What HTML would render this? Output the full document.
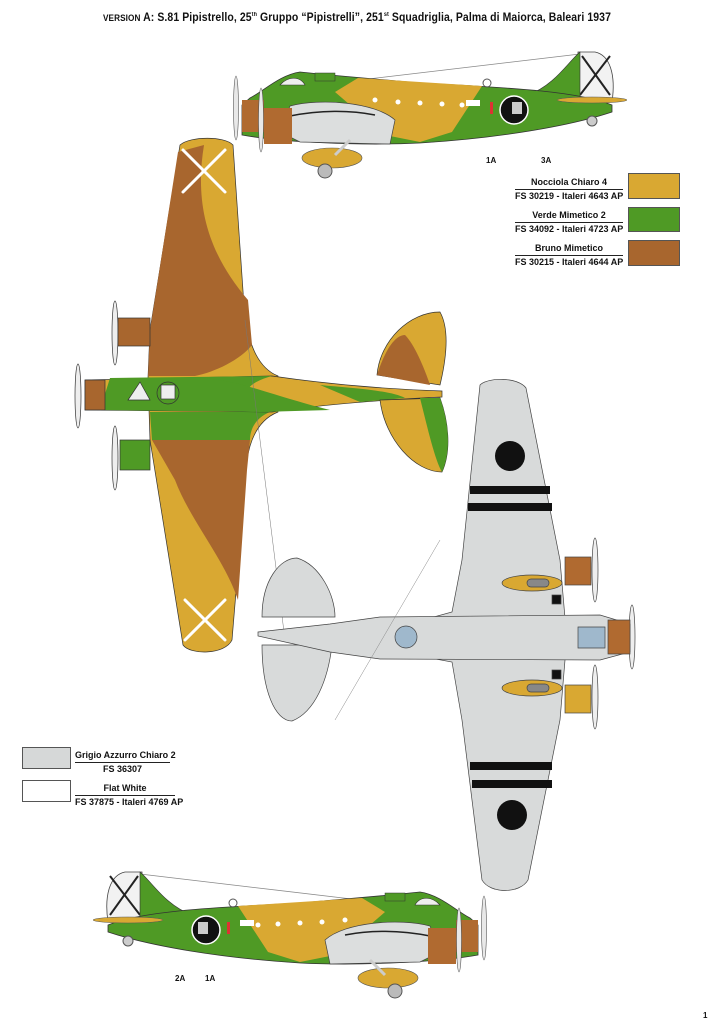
<!DOCTYPE html>
<html><head><meta charset="utf-8"><style>
html,body{margin:0;padding:0;background:#fff;}
body{width:714px;height:1023px;overflow:hidden;position:relative;font-family:"Liberation Sans Narrow","Liberation Sans",sans-serif;}
.t{position:absolute;font-weight:bold;color:#111;white-space:nowrap;}
.lg{position:absolute;font-weight:bold;font-size:9px;color:#111;text-align:center;white-space:nowrap;line-height:13px;}
.lg span{display:block;}
.lg .a{border-bottom:1px solid #222;}
.box{position:absolute;border:1px solid #555;}
</style></head><body>
<div class="t" style="left:103px;top:12px;font-size:11.5px;letter-spacing:0.1px;transform:scaleX(0.91);transform-origin:0 0;"><span style="font-size:9px">VERSION</span> A: S.81 Pipistrello, 25<sup style="font-size:6px">th</sup> Gruppo “Pipistrelli”, 251<sup style="font-size:6px">st</sup> Squadriglia, Palma di Maiorca, Baleari 1937</div>

<svg width="714" height="1023" style="position:absolute;left:0;top:0" xmlns="http://www.w3.org/2000/svg">
<defs>
<g id="side">
  <line x1="140" y1="874" x2="360" y2="900" stroke="#888" stroke-width="0.8"/>
  <path d="M108,922 C104,895 110,875 125,872 L142,872 L142,922 Z" fill="#f2f2f2" stroke="#444" stroke-width="0.8"/>
  <line x1="110" y1="876" x2="140" y2="915" stroke="#222" stroke-width="2"/>
  <line x1="138" y1="876" x2="110" y2="915" stroke="#222" stroke-width="2"/>
  <path d="M140,872 C152,882 165,905 192,915 L140,920 Z" fill="#4f9a25" stroke="#333" stroke-width="0.6"/>
  <path d="M108,925 C140,912 200,908 300,903 L390,895 L420,892 C440,895 455,910 470,918 L478,925 L478,955 C440,962 360,966 300,963 C220,958 150,946 108,932 Z" fill="#4f9a25" stroke="#333" stroke-width="0.8"/>
  <path d="M238,906 L362,898 L385,912 L335,955 L300,962 L268,952 Z" fill="#d9a832"/>
  <path d="M325,940 C345,922 400,918 430,926 L440,952 L420,962 L330,964 Z" fill="#dcdede" stroke="#444" stroke-width="0.7"/>
  <path d="M345,935 C370,930 400,930 430,936" stroke="#222" stroke-width="1.5" fill="none"/>
  <ellipse cx="128" cy="920" rx="35" ry="3" fill="#d9a832" stroke="#555" stroke-width="0.5"/>
  <rect x="428" y="928" width="28" height="36" fill="#b06a30"/>
  <rect x="456" y="920" width="22" height="32" fill="#b06a30"/>
  <ellipse cx="459" cy="940" rx="2.5" ry="32" fill="#e8e8e8" stroke="#555" stroke-width="0.6"/>
  <ellipse cx="484" cy="928" rx="2.5" ry="32" fill="#e8e8e8" stroke="#555" stroke-width="0.6"/>
  <path d="M415,905 C420,896 432,896 440,905 Z" fill="#eee" stroke="#333" stroke-width="0.6"/>
  <rect x="385" y="893" width="20" height="8" fill="#4f9a25" stroke="#333" stroke-width="0.5"/>
  <ellipse cx="388" cy="978" rx="30" ry="10" fill="#d9a832" stroke="#555" stroke-width="0.6"/>
  <circle cx="395" cy="991" r="7" fill="#bbb" stroke="#555"/>
  <line x1="370" y1="960" x2="385" y2="975" stroke="#ccc" stroke-width="3"/>
  <circle cx="128" cy="941" r="5" fill="#ccc" stroke="#555"/>
  <circle cx="206" cy="930" r="14" fill="#111" stroke="#fff" stroke-width="1.5"/>
  <rect x="198" y="922" width="10" height="12" fill="#ccc"/>
  <rect x="227" y="922" width="3" height="12" fill="#d33"/>
  <g fill="#fff"><circle cx="258" cy="925" r="2.5"/><circle cx="278" cy="924" r="2.5"/><circle cx="300" cy="923" r="2.5"/><circle cx="322" cy="922" r="2.5"/><circle cx="345" cy="920" r="2.5"/></g>
  <rect x="240" y="920" width="14" height="6" fill="#fff"/>
  <circle cx="233" cy="903" r="4" fill="none" stroke="#555"/>
</g>
</defs>

<use href="#side" transform="matrix(-1,0,0,1,720,-820)"/>
<use href="#side"/>

<g stroke="#333" stroke-width="0.7">
  <ellipse cx="115" cy="333" rx="3" ry="32" fill="#eee"/>
  <ellipse cx="78" cy="396" rx="3" ry="32" fill="#eee"/>
  <ellipse cx="115" cy="458" rx="3" ry="32" fill="#eee"/>
  <path d="M180,145 C190,136 225,136 233,145 L245,320 C250,345 258,368 278,376 L278,412 C258,420 250,440 247,460 L232,640 C225,655 190,655 183,645 L150,440 L148,378 L150,330 Z" fill="#d9a832"/>
  <path d="M178,152 L204,145 C195,200 205,250 248,300 L252,345 C240,360 215,372 195,376 L148,376 L150,330 Z" fill="#a8662e" stroke="none"/>
  <path d="M152,440 L250,440 L247,470 L238,600 C225,560 190,520 175,480 Z" fill="#a8662e" stroke="none"/>
  <path d="M150,412 L270,412 C255,418 250,430 250,440 L152,440 Z" fill="#4f9a25" stroke="none"/>
  <path d="M85,380 L272,376 C320,383 380,389 442,391 L442,397 C380,400 320,405 272,412 L85,410 Z" fill="#d9a832"/>
  <path d="M110,378 L272,376 C250,382 230,395 270,412 L100,410 Z" fill="#4f9a25" stroke="none"/>
  <path d="M200,378 C240,380 270,395 330,410 L260,412 L200,410 Z" fill="#4f9a25" stroke="none"/>
  <path d="M320,385 C350,388 390,390 405,398 L360,402 Z" fill="#4f9a25" stroke="none"/>
  <path d="M377,375 C380,340 410,312 440,312 C450,330 446,360 440,385 Z" fill="#d9a832"/>
  <path d="M377,375 C385,350 395,335 405,335 C415,345 425,370 430,385 Z" fill="#a8662e" stroke="none"/>
  <path d="M380,400 C385,440 415,472 442,472 C452,450 448,420 440,398 Z" fill="#d9a832"/>
  <path d="M420,398 C428,430 435,460 442,472 C452,450 448,420 440,398 Z" fill="#4f9a25" stroke="none"/>
  <rect x="85" y="380" width="20" height="30" fill="#a8662e"/>
  <rect x="118" y="318" width="32" height="28" fill="#a8662e"/>
  <rect x="120" y="440" width="30" height="30" fill="#4f9a25"/>
  <path d="M128,400 L140,382 L150,400 Z" fill="#eee"/>
  <circle cx="168" cy="393" r="11" fill="#4f9a25"/>
  <rect x="161" y="385" width="14" height="14" fill="#eee"/>
  <g stroke="#fff" stroke-width="3" stroke-linecap="round"><line x1="183" y1="150" x2="225" y2="192"/><line x1="225" y1="150" x2="183" y2="192"/><line x1="185" y1="600" x2="225" y2="640"/><line x1="225" y1="600" x2="185" y2="640"/></g>
  <line x1="245" y1="320" x2="285" y2="640" stroke="#777" stroke-width="0.5"/>
</g>

<g stroke="#444" stroke-width="0.7">
  <ellipse cx="595" cy="570" rx="3" ry="32" fill="#eee"/>
  <ellipse cx="632" cy="637" rx="3" ry="32" fill="#eee"/>
  <ellipse cx="595" cy="697" rx="3" ry="32" fill="#eee"/>
  <path d="M262,617 C262,580 280,558 297,558 C320,565 335,595 335,617 Z" fill="#d8dada"/>
  <path d="M262,645 C262,690 275,721 292,721 C315,712 328,680 332,645 Z" fill="#d8dada"/>
  <path d="M480,385 C488,377 518,377 526,388 L560,560 L565,618 L565,660 L560,720 L528,880 C520,894 490,894 482,880 L462,720 L452,662 L430,658 L430,618 L452,612 L462,560 Z" fill="#d8dada"/>
  <path d="M258,632 L330,624 L380,617 L600,615 L630,624 L630,652 L600,660 L380,659 L330,652 L258,636 Z" fill="#d8dada"/>
  <rect x="565" y="557" width="26" height="28" fill="#b06a30"/>
  <rect x="565" y="685" width="26" height="28" fill="#d9a832"/>
  <rect x="608" y="620" width="22" height="34" fill="#b06a30"/>
  <ellipse cx="532" cy="583" rx="30" ry="8" fill="#d9a832"/>
  <rect x="527" y="579" width="22" height="8" rx="4" fill="#888"/>
  <ellipse cx="532" cy="688" rx="30" ry="8" fill="#d9a832"/>
  <rect x="527" y="684" width="22" height="8" rx="4" fill="#888"/>
  <rect x="552" y="595" width="9" height="9" fill="#111"/>
  <rect x="552" y="670" width="9" height="9" fill="#111"/>
  <circle cx="406" cy="637" r="11" fill="#9fb8cc"/>
  <path d="M578,627 L605,627 L605,648 L578,648 Z" fill="#9fb8cc"/>
  <circle cx="510" cy="456" r="15" fill="#111" stroke="none"/>
  <circle cx="512" cy="815" r="15" fill="#111" stroke="none"/>
  <rect x="470" y="486" width="80" height="8" fill="#111" stroke="none"/>
  <rect x="468" y="503" width="84" height="8" fill="#111" stroke="none"/>
  <rect x="470" y="762" width="82" height="8" fill="#111" stroke="none"/>
  <rect x="472" y="780" width="80" height="8" fill="#111" stroke="none"/>
  <line x1="440" y1="540" x2="335" y2="720" stroke="#888" stroke-width="0.5"/>
</g>

<g font-family="Liberation Sans Narrow,Liberation Sans,sans-serif" font-weight="bold" font-size="8" fill="#111">
  <text x="486" y="163">1A</text><text x="541" y="163">3A</text>
  <text x="175" y="981">2A</text><text x="205" y="981">1A</text>
  <text x="703" y="1018">1</text>
</g>
</svg>

<div class="lg" style="left:515px;top:176px;width:108px"><span class="a">Nocciola Chiaro 4</span><span>FS 30219 - Italeri 4643 AP</span></div>
<div class="lg" style="left:515px;top:209px;width:108px"><span class="a">Verde Mimetico 2</span><span>FS 34092 - Italeri 4723 AP</span></div>
<div class="lg" style="left:515px;top:242px;width:108px"><span class="a">Bruno Mimetico</span><span>FS 30215 - Italeri 4644 AP</span></div>
<div class="box" style="left:628px;top:173px;width:50px;height:24px;background:#d9a832"></div>
<div class="box" style="left:628px;top:207px;width:50px;height:23px;background:#4f9a25"></div>
<div class="box" style="left:628px;top:240px;width:50px;height:24px;background:#a8662e"></div>

<div class="box" style="left:22px;top:747px;width:47px;height:20px;background:#d6d8d8"></div>
<div class="box" style="left:22px;top:780px;width:47px;height:20px;background:#fff"></div>
<div class="lg" style="left:75px;top:749px;width:95px"><span class="a">Grigio Azzurro Chiaro 2</span><span>FS 36307</span></div>
<div class="lg" style="left:75px;top:782px;width:100px"><span class="a">Flat White</span><span>FS 37875 - Italeri 4769 AP</span></div>
</body></html>
